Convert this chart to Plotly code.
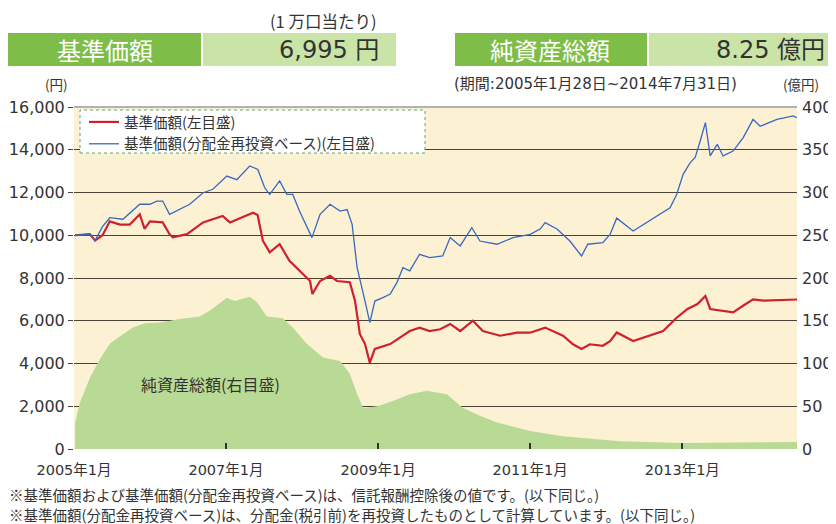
import plotly.graph_objects as go

# ---------------- data ----------------
nav_dates = ["2005-01-06","2005-03-18","2005-04-12","2005-05-18","2005-06-22","2005-08-10","2005-09-26",
             "2005-11-13","2005-12-06","2006-01-01","2006-03-03","2006-04-05","2006-04-20","2006-06-28",
             "2006-09-13","2006-10-30","2006-12-16","2007-01-20","2007-03-22","2007-05-11","2007-06-02",
             "2007-06-27","2007-07-30","2007-09-16","2007-11-02","2007-12-20","2008-02-09","2008-02-20",
             "2008-03-28","2008-05-15","2008-06-17","2008-08-18","2008-09-12","2008-10-05","2008-10-30",
             "2008-11-22","2008-12-16","2009-02-28","2009-04-16","2009-06-02","2009-07-19","2009-09-05",
             "2009-10-26","2009-12-13","2010-01-30","2010-04-01","2010-05-19","2010-08-10","2010-10-30",
             "2011-01-01","2011-03-14","2011-06-08","2011-07-26","2011-09-05","2011-10-15","2011-12-16",
             "2012-01-20","2012-02-21","2012-05-10","2012-06-28","2012-10-01","2012-12-05","2013-01-26",
             "2013-03-15","2013-04-22","2013-05-15","2013-07-16","2013-09-02","2013-10-20","2013-12-07",
             "2014-01-26","2014-04-01","2014-07-06"]
nav_values = [10000,10050,9750,10000,10650,10500,10500,
              10980,10300,10650,10600,10050,9900,10050,
              10600,10750,10900,10600,10850,11050,10950,
              9750,9200,9580,8800,8330,7860,7250,
              7860,8100,7860,7800,6920,5380,4910,
              4040,4680,4910,5210,5520,5680,5520,
              5600,5850,5520,6000,5520,5300,5440,
              5440,5680,5300,4900,4680,4900,4830,
              5050,5450,5050,5210,5520,6140,6550,
              6780,7160,6550,6470,6390,6700,7000,
              6940,6950,6995]

reinv_dates = ["2005-01-06","2005-03-18","2005-04-12","2005-05-18","2005-06-22","2005-08-24","2005-11-13",
               "2006-01-01","2006-02-03","2006-03-03","2006-04-05","2006-05-24","2006-07-11","2006-09-13",
               "2006-10-30","2007-01-05","2007-02-22","2007-04-25","2007-06-03","2007-07-06","2007-07-30",
               "2007-09-16","2007-10-20","2007-11-18","2007-12-20","2008-02-18","2008-03-28","2008-05-15",
               "2008-07-02","2008-08-05","2008-08-29","2008-09-22","2008-10-16","2008-10-30","2008-11-22",
               "2008-12-16","2009-01-24","2009-02-28","2009-04-01","2009-04-30","2009-06-02","2009-07-19",
               "2009-09-05","2009-11-07","2009-12-13","2010-01-30","2010-03-27","2010-05-05","2010-07-26",
               "2010-10-11","2011-01-01","2011-02-18","2011-03-14","2011-05-10","2011-07-11","2011-09-05",
               "2011-10-05","2011-12-16","2012-01-20","2012-02-21","2012-05-10","2012-06-28","2012-09-16",
               "2012-11-03","2012-12-05","2013-01-05","2013-02-08","2013-03-04","2013-03-28","2013-04-22",
               "2013-05-15","2013-06-18","2013-07-16","2013-09-02","2013-10-20","2013-12-07","2014-01-10",
               "2014-04-01","2014-06-18","2014-07-06"]
reinv_values = [10000,10050,9750,10400,10820,10750,11450,
                11450,11600,11600,10980,11200,11450,11990,
                12150,12770,12600,13240,13080,12220,11910,
                12540,11910,11910,11130,9890,10980,11450,
                11130,11200,10510,8480,7390,6920,5910,
                6920,7080,7250,7780,8480,8330,9110,
                8950,9030,9890,9500,10350,9730,9580,
                9890,10040,10290,10590,10290,9730,9030,
                9580,9650,10040,10800,10200,10510,10980,
                11290,11910,12850,13400,13640,14410,15270,
                13710,14250,13710,13940,14560,15420,15100,
                15420,15580,15500]

asset_dates = ["2005-01-06","2005-01-30","2005-03-18","2005-05-05","2005-06-22","2005-08-10","2005-10-11",
               "2005-12-06","2006-02-18","2006-05-24","2006-08-28","2006-10-16","2007-01-05","2007-02-13",
               "2007-04-25","2007-05-29","2007-07-16","2007-10-01","2007-11-18","2008-01-24","2008-04-11",
               "2008-07-02","2008-08-18","2008-09-22","2008-10-21","2008-12-27","2009-03-13","2009-06-02",
               "2009-08-23","2009-11-27","2010-02-13","2010-05-05","2010-07-26","2011-01-01","2011-06-08",
               "2011-11-18","2012-03-07","2013-01-01","2013-10-14","2014-07-06"]
asset_values = [30,55,83,105,123,132,142,
                147,148,152,155,162,177,173,
                178,172,155,153,142,123,107,
                103,88,64,48,50,56,64,
                68,64,48,39,31,21,15,
                11,9,7,8,8.25]

x_tick_vals = ["2005-01-01","2007-01-01","2009-01-01","2011-01-01","2013-01-01"]
x_tick_text = ["2005年1月","2007年1月","2009年1月","2011年1月","2013年1月"]

# ---------------- layout helpers ----------------
# page body has an 8px margin, so the figure is 8px smaller and offset.
OFF = 8
W, H = 836 - OFF, 524 - OFF
L, R, T, B = 74, 797, 107, 449   # plot area in reference (page) pixels


def px(x):
    return (x - L) / (R - L)


def py(y):
    return (B - y) / (B - T)


NUM_FONT = "DejaVu Sans, Noto Sans CJK JP"
JP_FONT = "Noto Sans CJK JP, DejaVu Sans"
TXT = "#333333"

fig = go.Figure()

fig.add_trace(go.Scatter(
    x=asset_dates, y=asset_values, yaxis="y", mode="lines",
    line=dict(width=0, color="#b9da95"), fill="tozeroy", fillcolor="#b9da95",
    showlegend=False, hoverinfo="skip"))

fig.add_trace(go.Scatter(
    x=nav_dates, y=nav_values, yaxis="y2", mode="lines",
    line=dict(color="#d0202c", width=2.2), name="基準価額(左目盛)"))

fig.add_trace(go.Scatter(
    x=reinv_dates, y=reinv_values, yaxis="y2", mode="lines",
    line=dict(color="#3a68c0", width=1.3), name="基準価額(分配金再投資ベース)(左目盛)"))

shapes = [
    dict(type="rect", xref="paper", yref="paper", x0=px(8), x1=px(201), y0=py(66), y1=py(33),
         fillcolor="#7dbd48", line=dict(width=0), layer="above"),
    dict(type="rect", xref="paper", yref="paper", x0=px(203), x1=px(396), y0=py(66), y1=py(33),
         fillcolor="#c9e4a6", line=dict(width=0), layer="above"),
    dict(type="rect", xref="paper", yref="paper", x0=px(455), x1=px(647), y0=py(66), y1=py(33),
         fillcolor="#7dbd48", line=dict(width=0), layer="above"),
    dict(type="rect", xref="paper", yref="paper", x0=px(649), x1=px(836), y0=py(66), y1=py(33),
         fillcolor="#c9e4a6", line=dict(width=0), layer="above"),
    dict(type="rect", xref="paper", yref="paper", x0=px(80), x1=px(425), y0=py(153), y1=py(110),
         fillcolor="white", line=dict(color="#5fa86a", width=1, dash="dot"), layer="above"),
    dict(type="line", xref="paper", yref="paper", x0=0, x1=1, y0=1, y1=1,
         line=dict(color="#9a9a9a", width=1.5), layer="above"),
]


def ann(text, x, y, size, color=TXT, family=JP_FONT, xanchor="center"):
    return dict(text=text, x=px(x), y=py(y), xref="paper", yref="paper", showarrow=False,
                xanchor=xanchor, yanchor="middle", borderpad=0,
                font=dict(size=size, color=color, family=family))


annotations = [
    ann("(1 万口当たり)", 323, 21, 16.5),
    ann("基準価額", 105, 50, 24, color="white"),
    ann("6,995 円", 380, 50, 24, family=NUM_FONT, xanchor="right"),
    ann("純資産総額", 550, 50, 24, color="white"),
    ann("8.25 億円", 826, 50, 24, family=NUM_FONT, xanchor="right"),
    ann("(円)", 56, 84, 13.5),
    ann("(期間:2005年1月28日~2014年7月31日)", 453, 84, 15, family=NUM_FONT, xanchor="left"),
    ann("(億円)", 782, 84, 13.5, xanchor="left"),
    ann("純資産総額(右目盛)", 210, 384, 16),
    ann("※基準価額および基準価額(分配金再投資ベース)は、信託報酬控除後の値です。(以下同じ。)",
        8, 494, 14.5, xanchor="left"),
    ann("※基準価額(分配金再投資ベース)は、分配金(税引前)を再投資したものとして計算しています。(以下同じ。)",
        8, 514, 14.5, xanchor="left"),
]

fig.update_layout(
    width=W, height=H,
    margin=dict(l=L - OFF, r=836 - R, t=T - OFF, b=524 - B, pad=0, autoexpand=False),
    paper_bgcolor="white",
    plot_bgcolor="#fdf1d4",
    showlegend=True,
    legend=dict(x=px(84), y=py(106), xanchor="left", yanchor="top", bgcolor="rgba(0,0,0,0)",
                font=dict(size=14.5, color=TXT, family=JP_FONT), itemwidth=30,
                tracegroupgap=0),
    xaxis=dict(type="date", range=["2005-01-01", "2014-07-06"],
               tickvals=x_tick_vals, ticktext=x_tick_text,
               ticks="inside", ticklen=6, tickwidth=1.5, tickcolor="#333",
               ticklabelstandoff=10,
               showgrid=False, zeroline=False, showline=False,
               tickfont=dict(size=14.5, color=TXT, family=NUM_FONT)),
    yaxis=dict(side="right", range=[0, 400], dtick=50, tick0=0,
               showgrid=True, gridcolor="#4a4236", gridwidth=1.3, zeroline=False,
               showline=False, ticks="", ticklabelstandoff=4,
               tickfont=dict(size=16, color=TXT, family=NUM_FONT)),
    yaxis2=dict(side="left", overlaying="y", range=[0, 16000], dtick=2000, tick0=0,
                showgrid=False, zeroline=False, showline=False, tickformat=",d",
                ticks="outside", ticklen=5, tickcolor="#4a4236",
                tickfont=dict(size=16, color=TXT, family=NUM_FONT)),
    shapes=shapes,
    annotations=annotations,
)

fig.write_html("out.html")
